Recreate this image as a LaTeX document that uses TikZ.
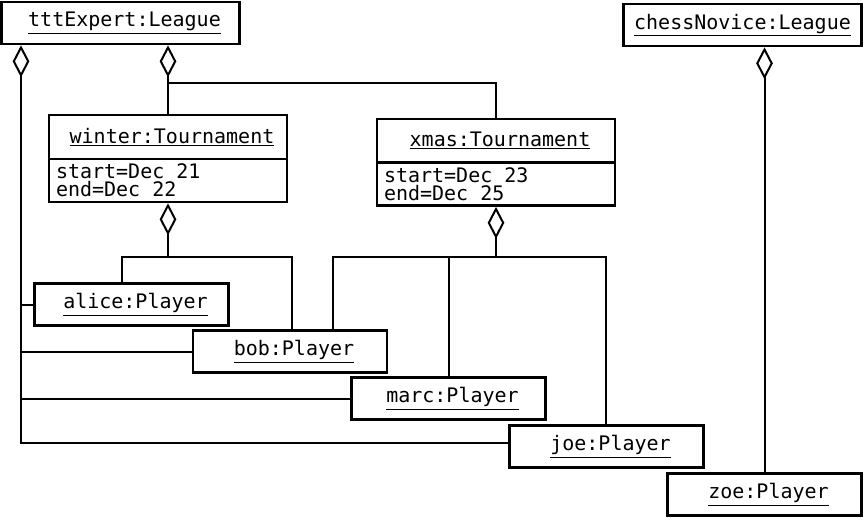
\documentclass[tikz,border=0pt]{standalone}
\usepackage{fontspec}
\setmonofont{DejaVu Sans Mono}
\usetikzlibrary{arrows.meta}

\tikzset{every picture/.style={line width=1.5pt}}
\tikzset{
	objbox/.style={draw, line width=2pt, inner sep=0pt, minimum width=178.5pt, minimum height=31.5pt, font=\ttfamily\fontsize{15}{13.5}\selectfont},
	plbox/.style={objbox, minimum width=145.5pt},
	attrbox/.style={objbox, text width=168pt, align=left, inner xsep=5.25pt, minimum width=0pt, minimum height=32.25pt},
	aggr/.style={{Diamond[open, length=24pt, width=12.5pt]}-}
}
\newcommand\objname[1]{\hspace*{6pt}\underline{#1}}
\newcommand\gap{\hphantom{0}}

\begin{document}
\begin{tikzpicture}[x=0.75pt,y=0.75pt,yscale=-1,xscale=1]
	\useasboundingbox (0,0) rectangle (864,519);

	%Shape: Leagues
	\node [objbox] (ttt) at (120.5,23) {\objname{tttExpert:League}};
	\node [objbox] (chess) at (742.5,25) {\underline{chessNovice:League}};

	%Shape: Tournaments
	\node [objbox, minimum height=33pt] (winterH) at (168,137) {\objname{winter:Tournament}};
	\node [attrbox] (winterA) at (168,180.5) {start=Dec\gap21\\end=Dec\gap22};
	\node [objbox, minimum height=32.25pt] (xmasH) at (496,140.5) {\objname{xmas:Tournament}};
	\node [attrbox] (xmasA) at (496,184) {start=Dec\gap23\\end=Dec\gap25};

	%Shape: Players
	\node [plbox] (alice) at (131.5,304.5) {\objname{alice:Player}};
	\node [plbox] (bob) at (290,351.5) {\objname{bob:Player}};
	\node [plbox] (marc) at (448.5,398.5) {\objname{marc:Player}};
	\node [plbox] (joe) at (606.5,446.5) {\objname{joe:Player}};
	\node [plbox] (zoe) at (764.5,494.5) {\objname{zoe:Player}};

	%Bus coordinates
	\coordinate (trunk) at (21,443);
	\coordinate (br) at (168,83);
	\coordinate (wbL) at (122,257);
	\coordinate (wbR) at (292,257);
	\coordinate (xbL) at (333,257);
	\coordinate (xbR) at (606,257);

	%Connector: tttExpert -- players
	\draw [aggr] (ttt.south -| trunk) -- (trunk) -- (joe.west |- trunk);
	\draw (alice.west) -- (alice.west -| trunk);
	\draw (bob.west) -- (bob.west -| trunk);
	\draw (marc.west) -- (marc.west -| trunk);

	%Connector: tttExpert -- tournaments
	\draw [aggr] (ttt.south -| winterH.north) -- (winterH.north);
	\draw (br) -| (xmasH.north);

	%Connector: winter -- players
	\draw [aggr] (winterA.south) -- (winterA.south |- wbL);
	\draw (alice.north -| wbL) -- (wbL) -- (wbR) -- (bob.north -| wbR);

	%Connector: xmas -- players
	\draw [aggr] (xmasA.south) -- (xmasA.south |- xbL);
	\draw (bob.north -| xbL) -- (xbL) -- (xbR) -- (joe.north -| xbR);
	\draw (marc.north) -- (marc.north |- xbL);

	%Connector: chessNovice -- zoe
	\draw [aggr] (chess.south -| zoe.north) -- (zoe.north);

\end{tikzpicture}
\end{document}
